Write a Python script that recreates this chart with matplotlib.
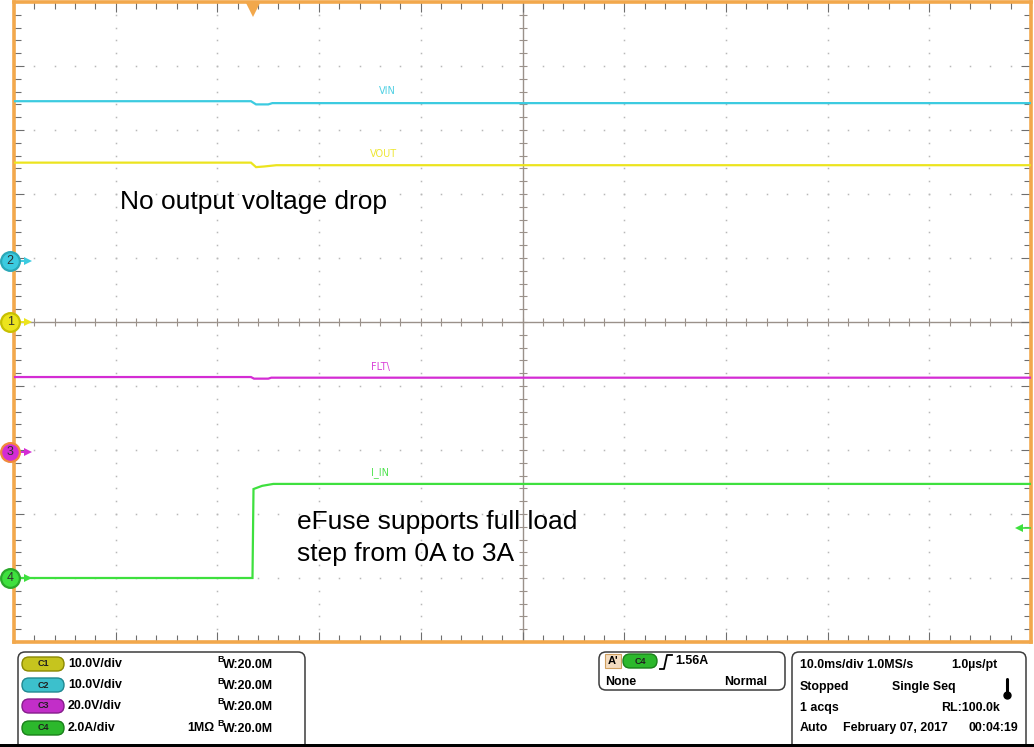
"""
Scope capture: eFuse load step 0A -> 3A (VIN, VOUT, FLT, I_IN).
"""

import matplotlib
matplotlib.use("Agg")
import matplotlib.pyplot as plt
import numpy as np
from matplotlib.patches import FancyBboxPatch, Rectangle

plt.rcParams.update({
    "font.family": ["Liberation Sans", "DejaVu Sans"],
})

W, H = 1034, 747

# ── Data (time in ms, values in channel units) ──────────────────────────────
VIN_T = [0.0, 23.3, 23.8, 25.0, 25.4, 100.0]
VIN_V = [25.0, 25.0, 24.5, 24.5, 24.7, 24.7]

VOUT_T = [0.0, 23.3, 23.8, 24.6, 25.8, 100.0]
VOUT_V = [24.9, 24.9, 24.2, 24.3, 24.5, 24.5]

FLT_T = [0.0, 23.3, 23.6, 25.0, 25.3, 100.0]
FLT_V = [23.4, 23.4, 22.9, 22.9, 23.2, 23.2]

IIN_T = [0.0, 23.45, 23.55, 24.4, 25.5, 100.0]
IIN_V = [0.0, 0.0, 2.78, 2.88, 2.94, 2.94]

TRIG_T = 23.5        # ms
TRIG_LEVEL = 1.56    # A on C4

# channel scale (units/div) and ground offset (div)
CH = {
    "VIN":  dict(num="2", scale=10.0, off=0.95, color="#3ccbe0", lbl=(36.7, 3.61)),
    "VOUT": dict(num="1", scale=10.0, off=0.0, color="#ece41e", lbl=(36.3, 2.63)),
    "FLT":  dict(num="3", scale=20.0, off=-2.03, color="#d42cd4", lbl=(36.0, -0.70)),
    "I_IN": dict(num="4", scale=2.0, off=-4.0, color="#3ee03e", lbl=(36.0, -2.36)),
}
TRACES = {"VIN": (VIN_T, VIN_V), "VOUT": (VOUT_T, VOUT_V),
          "FLT": (FLT_T, FLT_V), "I_IN": (IIN_T, IIN_V)}
LABELS = {"VIN": "VIN", "VOUT": "VOUT", "FLT": "FLT\\", "I_IN": "I_IN"}

ORANGE = "#f2a84c"
GRID = "#b8b8b8"
PFS = 8.9   # status panel font size

fig = plt.figure(figsize=(W / 100, H / 100), dpi=100)
fig.patch.set_facecolor("white")

# overlay in pixel coords for the status panel
pan = fig.add_axes([0, 0, 1, 1], zorder=0)
pan.set_xlim(0, W)
pan.set_ylim(H, 0)
pan.axis("off")

ax = fig.add_axes([14 / W, (H - 642) / H, 1017 / W, 640 / H], zorder=1)
ax.set_xlim(0, 100)
ax.set_ylim(-5, 5)

# ── Graticule ───────────────────────────────────────────────────────────────
for s in ax.spines.values():
    s.set_color(ORANGE)
    s.set_linewidth(2.6)
ax.set_xticks(np.arange(0, 101, 10))
ax.set_yticks(np.arange(-5, 6, 1))
ax.set_xticks(np.arange(0, 101, 2), minor=True)
ax.set_yticks(np.arange(-5, 5.01, 0.2), minor=True)
ax.tick_params(which="both", direction="in", top=True, right=True,
               labelbottom=False, labelleft=False, color="#6e6e6e", width=0.8)
ax.tick_params(which="major", length=7)
ax.tick_params(which="minor", length=5)

minor_x = np.arange(0, 100.01, 2)
minor_y = np.arange(-5, 5.01, 0.2)
for gx in range(10, 100, 10):
    if gx == 50:
        continue
    ax.plot(np.full_like(minor_y, gx), minor_y, ls="none", marker="s", ms=1.1,
            color=GRID, mew=0)
for gy in range(-4, 5):
    if gy == 0:
        continue
    ax.plot(minor_x, np.full_like(minor_x, gy), ls="none", marker="s", ms=1.1,
            color=GRID, mew=0)

ax.axhline(0, color="#9a918a", lw=1.0, zorder=1)
ax.axvline(50, color="#9a918a", lw=1.0, zorder=1)
ax.plot(minor_x, np.zeros_like(minor_x), ls="none", marker="|", ms=6,
        mew=0.8, color="#9a918a")
ax.plot(np.full_like(minor_y, 50), minor_y, ls="none", marker="_", ms=6,
        mew=0.8, color="#9a918a")

# ── Traces ──────────────────────────────────────────────────────────────────
for key, (t, v) in TRACES.items():
    c = CH[key]
    y = c["off"] + np.array(v) / c["scale"]
    ax.plot(t, y, color=c["color"], lw=1.6, zorder=5, solid_joinstyle="miter")
    lx, ly = c["lbl"]
    ax.text(lx, ly, LABELS[key], color=c["color"], fontsize=7, ha="center",
            va="center", alpha=0.9, family="DejaVu Sans")

    # ground marker on the left edge
    ax.plot([0.2, 1.3], [c["off"], c["off"]], color=c["color"], lw=1.4,
            clip_on=False, zorder=6)
    ax.plot(1.4, c["off"], marker=">", ms=6, color=c["color"], mew=0,
            clip_on=False, zorder=6)
    edge = {"1": "#c8c000", "2": "#2aa8b8", "3": "#f08a3c", "4": "#2aa82a"}[c["num"]]
    ax.plot(-0.38, c["off"], marker="o", ms=13.5, color=c["color"], mec=edge,
            mew=1.6, clip_on=False, zorder=7)
    ax.text(-0.38, c["off"], c["num"], fontsize=9, ha="center", va="center",
            color="#303030", zorder=8, clip_on=False)

# trigger position and level
ax.plot(TRIG_T, 4.87, marker="v", ms=10, color=ORANGE, mew=0, clip_on=False,
        zorder=10)
trig_y = CH["I_IN"]["off"] + TRIG_LEVEL / CH["I_IN"]["scale"]
ax.plot([99.0, 100.0], [trig_y, trig_y], color=CH["I_IN"]["color"], lw=1.2,
        zorder=6)
ax.plot(98.8, trig_y, marker="<", ms=6, color=CH["I_IN"]["color"], mew=0,
        zorder=6)

# annotations
ax.text(10.4, 1.875, "No output voltage drop", fontsize=19, ha="left",
        va="center", color="black")
ax.text(27.8, -3.125, "eFuse supports full load", fontsize=19, ha="left",
        va="center", color="black")
ax.text(27.8, -3.625, "step from 0A to 3A", fontsize=19, ha="left",
        va="center", color="black")

# ── Status panel ────────────────────────────────────────────────────────────
BOX_EC = "#3c3c3c"
for x0, y0, x1, y1 in [(18, 652, 305, 752), (599, 652, 785, 690),
                       (792, 652, 1026, 752)]:
    pan.add_patch(FancyBboxPatch((x0, y0), x1 - x0, y1 - y0,
                                 boxstyle="round,pad=0,rounding_size=7",
                                 fc="white", ec=BOX_EC, lw=1.1))
pan.add_patch(Rectangle((0, 744), W, 4, fc="black", ec="none"))

PILL = {"C1": ("#c6c41e", "#8a8800"), "C2": ("#3cc0cc", "#1f8890"),
        "C3": ("#c22ec8", "#861c8c"), "C4": ("#2cb82c", "#1a801a")}


def pill(x, y, name, w=42):
    fc, ec = PILL[name]
    pan.add_patch(FancyBboxPatch((x, y - 7), w, 14,
                                 boxstyle="round,pad=0,rounding_size=7",
                                 fc=fc, ec=ec, lw=1.0))
    pan.text(x + w / 2, y, name, fontsize=6.5, weight="bold", ha="center",
             va="center", color="#202020")


ROWS = [("C1", "10.0V/div", ""), ("C2", "10.0V/div", ""),
        ("C3", "20.0V/div", ""), ("C4", "2.0A/div", "1MΩ")]
ROW_Y = [664, 685, 706, 728]
for (name, vdiv, imp), ry in zip(ROWS, ROW_Y):
    pill(22, ry, name)
    pan.text(68, ry, vdiv, fontsize=PFS, weight="bold", va="center")
    pan.text(217, ry - 4, "B", fontsize=6.5, weight="bold", va="center")
    pan.text(223, ry + 1, "W:20.0M", fontsize=PFS, weight="bold", va="center")
    if imp:
        pan.text(187, ry, imp, fontsize=PFS, weight="bold", va="center")

# trigger box
pan.add_patch(Rectangle((605, 654), 16, 14, fc="#f3dcc0", ec="#d0a060", lw=0.8))
pan.text(613, 661, "A'", fontsize=8, weight="bold", ha="center", va="center")
pill(623, 661, "C4", w=34)
pan.plot([660, 664, 667, 672], [669, 669, 655, 655], color="black", lw=1.3)
pan.text(675, 661, "1.56A", fontsize=PFS, weight="bold", va="center")
pan.text(605, 682, "None", fontsize=PFS, weight="bold", va="center")
pan.text(767, 682, "Normal", fontsize=PFS, weight="bold", va="center", ha="right")

# acquisition box
pan.text(800, 665, "10.0ms/div 1.0MS/s", fontsize=PFS, weight="bold", va="center")
pan.text(998, 665, "1.0µs/pt", fontsize=PFS, weight="bold", va="center", ha="right")
pan.text(800, 687, "Stopped", fontsize=PFS, weight="bold", va="center")
pan.text(892, 687, "Single Seq", fontsize=PFS, weight="bold", va="center")
pan.plot([1007, 1007], [679, 693], color="black", lw=2.2, solid_capstyle="round")
pan.plot(1007, 695, marker="o", ms=5, color="black")
pan.text(800, 708, "1 acqs", fontsize=PFS, weight="bold", va="center")
pan.text(1000, 708, "RL:100.0k", fontsize=PFS, weight="bold", va="center", ha="right")
pan.text(800, 728, "Auto", fontsize=PFS, weight="bold", va="center")
pan.text(843, 728, "February 07, 2017", fontsize=PFS, weight="bold", va="center")
pan.text(1018, 728, "00:04:19", fontsize=PFS, weight="bold", va="center", ha="right")

fig.savefig("out.png", dpi=100, facecolor="white")
